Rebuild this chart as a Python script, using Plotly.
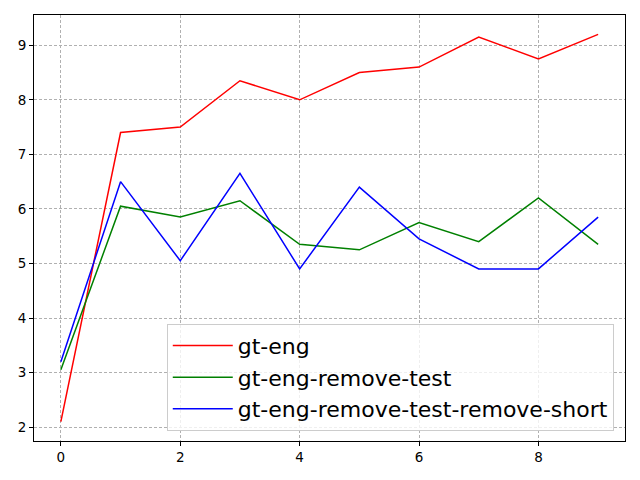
import plotly.graph_objects as go

x_vals = [0, 1, 2, 3, 4, 5, 6, 7, 8, 9]
gt_eng = [2.1, 7.4, 7.5, 8.35, 8.0, 8.5, 8.6, 9.15, 8.75, 9.2]
gt_eng_remove_test = [3.05, 6.05, 5.85, 6.15, 5.35, 5.25, 5.75, 5.4, 6.2, 5.35]
gt_eng_remove_test_remove_short = [3.2, 6.5, 5.05, 6.65, 4.9, 6.4, 5.45, 4.9, 4.9, 5.85]

series = [
    ("gt-eng", gt_eng, "#ff0000"),
    ("gt-eng-remove-test", gt_eng_remove_test, "#008000"),
    ("gt-eng-remove-test-remove-short", gt_eng_remove_test_remove_short, "#0000ff"),
]

fig = go.Figure()
for name, ys, color in series:
    fig.add_trace(go.Scatter(x=x_vals, y=ys, mode="lines", name=name,
                             line=dict(color=color, width=1.5)))

axis_common = dict(
    showline=True, linecolor="black", linewidth=1, mirror=True,
    ticks="outside", ticklen=4, tickcolor="black", tickwidth=1,
    showgrid=True, gridcolor="#b0b0b0", gridwidth=0.8, griddash="3px,2px",
    zeroline=False, tickfont=dict(family="DejaVu Sans", size=13.5, color="black"),
)

fig.update_xaxes(range=[-0.45, 9.45], tickvals=[0, 2, 4, 6, 8], **axis_common)
fig.update_yaxes(range=[1.745, 9.555], tickvals=[2, 3, 4, 5, 6, 7, 8, 9], **axis_common)

fig.update_layout(
    width=640, height=480,
    margin=dict(l=26, r=23, t=7, b=47, autoexpand=False),
    paper_bgcolor="white", plot_bgcolor="white",
    font=dict(family="DejaVu Sans"),
    legend=dict(
        x=0.981, y=0.024, xanchor="right", yanchor="bottom",
        bgcolor="rgba(255,255,255,0.8)", bordercolor="#cccccc", borderwidth=1,
        font=dict(size=22, color="black", family="DejaVu Sans"),
        itemwidth=60, tracegroupgap=0,
    ),
    showlegend=True,
)

fig.write_html("out.html")
